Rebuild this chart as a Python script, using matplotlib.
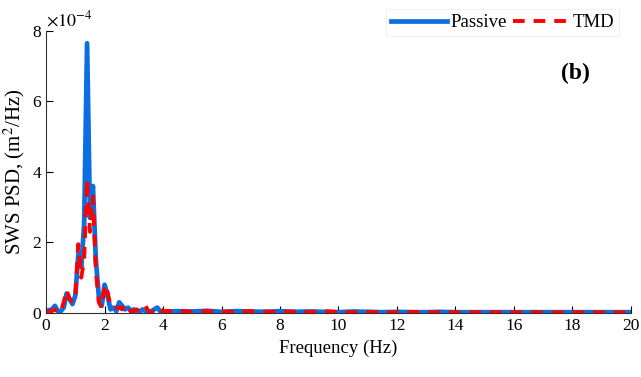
import matplotlib.pyplot as plt

# frequency grid (Hz)
freq = [0.0, 0.1, 0.2, 0.3, 0.4, 0.5, 0.6, 0.7, 0.8, 0.9,
        1.0, 1.1, 1.2, 1.3, 1.4, 1.5, 1.6, 1.7, 1.8, 1.9,
        2.0, 2.1, 2.2, 2.3, 2.4, 2.5, 2.6, 2.7, 2.8, 2.9,
        3.0, 3.1, 3.2, 3.3, 3.4, 3.5, 3.6, 3.7, 3.8, 3.9,
        4.0, 4.5, 5.0, 5.5, 6.0, 6.5, 7.0, 7.5, 8.0, 8.5,
        9.0, 9.5, 10.0, 10.5, 11.0, 11.5, 12.0, 12.5, 13.0, 13.5,
        14.0, 14.5, 15.0, 15.5, 16.0, 16.5, 17.0, 17.5, 18.0, 18.5,
        19.0, 19.5, 20.0]

# PSD values in units of 1e-4 m^2/Hz
passive = [0.05, 0.08, 0.10, 0.20, 0.05, 0.05, 0.15, 0.55, 0.40, 0.25,
           0.50, 1.65, 1.30, 2.50, 7.65, 2.70, 3.60, 1.50, 0.50, 0.20,
           0.80, 0.50, 0.10, 0.15, 0.05, 0.30, 0.20, 0.10, 0.15, 0.05,
           0.10, 0.05, 0.03, 0.10, 0.05, 0.02, 0.05, 0.10, 0.15, 0.05,
           0.03, 0.05, 0.04, 0.06, 0.03, 0.05, 0.04, 0.03, 0.05, 0.03,
           0.04, 0.03, 0.02, 0.04, 0.03, 0.02, 0.03, 0.02, 0.02, 0.03,
           0.02, 0.02, 0.02, 0.02, 0.02, 0.02, 0.02, 0.02, 0.02, 0.02,
           0.02, 0.02, 0.02]
tmd = [0.05, 0.05, 0.05, 0.10, 0.00, 0.05, 0.30, 0.65, 0.40, 0.30,
       0.50, 1.95, 1.00, 1.50, 3.80, 2.30, 3.30, 1.20, 0.30, 0.15,
       0.80, 0.60, 0.20, 0.20, 0.15, 0.15, 0.10, 0.25, 0.15, 0.05,
       0.05, 0.10, 0.05, 0.10, 0.20, 0.05, 0.02, 0.05, 0.10, 0.15,
       0.05, 0.06, 0.03, 0.05, 0.04, 0.03, 0.05, 0.04, 0.03, 0.04,
       0.03, 0.05, 0.03, 0.02, 0.03, 0.02, 0.02, 0.03, 0.02, 0.02,
       0.02, 0.02, 0.02, 0.02, 0.02, 0.02, 0.02, 0.02, 0.02, 0.02,
       0.02, 0.02, 0.02]

plt.rcParams['font.family'] = ['Liberation Serif', 'DejaVu Serif']
plt.rcParams['mathtext.fontset'] = 'stix'

fig = plt.figure(figsize=(6.41, 3.77), dpi=100)
ax = fig.add_axes([0.072, 0.170, 0.912, 0.748])

ax.plot(freq, passive, color='#0a6fe0', lw=3.4, label='Passive', solid_joinstyle='round')
ax.plot(freq, tmd, color='#ff0000', lw=2.8, ls=(0, (3.0, 2.3)), label='TMD')

ax.set_xlim(0, 20)
ax.set_ylim(0, 8)
ax.set_xticks(range(0, 21, 2))
ax.set_yticks([0, 2, 4, 6, 8])
ax.tick_params(direction='in', labelsize=12.5, length=5, width=0.8)
for s in ['top', 'right']:
    ax.spines[s].set_visible(False)
for s in ['left', 'bottom']:
    ax.spines[s].set_color('#333333')

ax.set_xlabel('Frequency (Hz)', fontsize=13.5)
ax.set_ylabel('SWS PSD, (m$^2$/Hz)', fontsize=15)
ax.text(0.0, 1.005, r'$\times10^{-4}$', transform=ax.transAxes, fontsize=13,
        ha='left', va='bottom')
ax.text(18.1, 6.8, '(b)', fontsize=17, fontweight='bold', ha='center', va='center')

leg = ax.legend(loc='upper right', ncol=2, bbox_to_anchor=(0.966, 0.975),
                bbox_transform=fig.transFigure, fontsize=13.5, frameon=True,
                fancybox=False, handlelength=3.0, handletextpad=0.2,
                columnspacing=0.3, borderpad=0.25, borderaxespad=0)
leg.get_frame().set_edgecolor('#eeeeee')
leg.get_frame().set_linewidth(0.8)

fig.savefig('out.png', dpi=100)
